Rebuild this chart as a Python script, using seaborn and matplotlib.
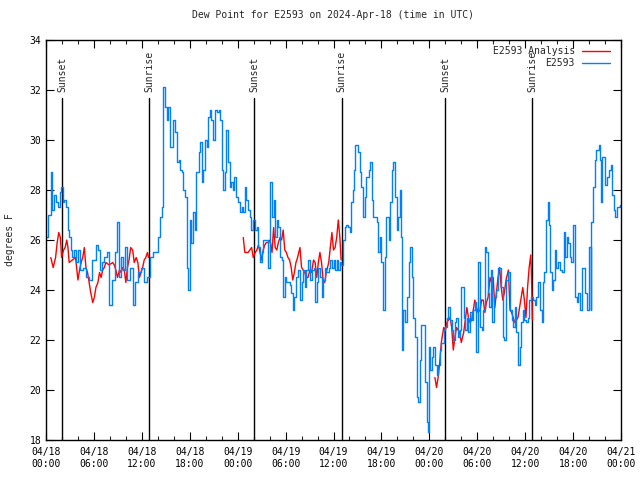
import matplotlib
matplotlib.use("Agg")
import matplotlib.pyplot as plt
import matplotlib.dates as mdates
from matplotlib.ticker import MultipleLocator
from matplotlib.lines import Line2D
import numpy as np
import pandas as pd
import seaborn as sns

# ---------------- data (hours after 2024-04-18 00:00 UTC, dew point degF) -------------
station_obs = [
    (0.0, 26.1), (0.3, 27.0), (0.6, 28.7), (0.8, 27.2), (1.0, 27.8), (1.25, 27.5), (1.5, 27.3),
    (1.7, 27.9), (1.9, 28.1), (2.1, 27.5), (2.3, 27.6), (2.5, 27.3), (2.7, 26.4), (2.9, 26.1),
    (3.1, 25.6), (3.3, 25.3), (3.5, 25.6), (3.75, 25.1), (4.0, 25.6), (4.2, 24.8), (4.6, 24.9),
    (5.0, 24.5), (5.4, 24.4), (5.8, 25.2), (6.2, 25.8), (6.5, 25.6), (6.7, 24.8), (7.0, 25.1),
    (7.3, 25.3), (7.6, 25.5), (7.9, 23.4), (8.3, 24.4), (8.6, 25.5), (8.85, 26.7), (9.1, 24.5),
    (9.4, 25.3), (9.7, 24.8), (9.9, 25.7), (10.2, 24.4), (10.5, 24.9), (10.9, 23.4), (11.2, 24.3),
    (11.5, 24.7), (11.9, 24.9), (12.3, 24.3), (12.7, 24.5), (13.0, 25.3), (13.35, 25.5),
    (13.8, 25.5), (14.07, 26.1), (14.3, 26.9), (14.5, 27.3), (14.65, 32.1), (14.9, 31.3),
    (15.1, 30.8), (15.3, 31.3), (15.5, 29.7), (15.7, 29.7), (15.9, 30.8), (16.1, 30.3),
    (16.4, 29.1), (16.6, 29.2), (16.8, 28.8), (17.0, 28.7), (17.2, 28.0), (17.4, 27.7),
    (17.6, 24.9), (17.8, 24.0), (18.0, 26.8), (18.2, 25.9), (18.4, 27.1), (18.6, 26.4),
    (18.8, 28.7), (19.1, 29.5), (19.3, 29.9), (19.5, 28.3), (19.7, 28.8), (19.9, 30.0),
    (20.1, 29.7), (20.3, 30.9), (20.5, 31.2), (20.7, 30.8), (20.9, 30.0), (21.1, 31.2),
    (21.4, 31.1), (21.6, 31.2), (21.8, 30.8), (22.0, 28.8), (22.2, 28.0), (22.4, 28.7),
    (22.6, 30.4), (22.8, 29.1), (23.0, 28.1), (23.2, 28.3), (23.4, 28.0), (23.6, 28.5),
    (23.85, 27.7), (24.0, 27.5), (24.3, 27.1), (24.5, 27.3), (24.7, 27.1), (24.9, 28.1),
    (25.1, 27.6), (25.3, 27.2), (25.5, 26.9), (25.7, 26.4), (25.9, 26.8), (26.2, 26.4),
    (26.4, 26.5), (26.6, 25.7), (26.8, 25.1), (27.0, 25.5), (27.2, 26.0), (27.6, 26.0),
    (27.8, 24.9), (28.1, 28.3), (28.3, 26.9), (28.5, 27.6), (28.7, 26.1), (28.9, 26.8),
    (29.1, 26.5), (29.3, 25.3), (29.5, 25.2), (29.7, 23.7), (29.9, 24.5), (30.1, 24.3),
    (30.5, 24.2), (30.7, 23.9), (30.9, 23.2), (31.1, 23.7), (31.3, 24.5), (31.5, 24.8),
    (31.8, 23.6), (32.0, 24.3), (32.2, 24.8), (32.4, 24.1), (32.6, 24.8), (32.8, 25.2),
    (33.05, 24.4), (33.25, 24.8), (33.5, 24.9), (33.7, 23.5), (33.9, 24.3), (34.1, 24.9),
    (34.3, 24.5), (34.5, 23.7), (34.7, 24.4), (34.9, 24.9), (35.1, 24.7), (35.4, 24.9),
    (35.6, 25.2), (35.8, 24.9), (36.0, 25.2), (36.2, 24.8), (36.4, 25.2), (36.6, 24.8),
    (36.8, 25.1), (37.0, 25.0), (37.2, 26.0), (37.4, 26.5), (37.6, 26.6), (37.8, 26.5),
    (38.1, 26.3), (38.2, 27.5), (38.4, 28.0), (38.6, 28.8), (38.7, 29.8), (38.9, 29.8),
    (39.1, 29.5), (39.3, 28.7), (39.5, 28.1), (39.7, 26.9), (39.9, 27.7), (40.1, 28.5),
    (40.4, 28.8), (40.6, 29.1), (40.8, 27.6), (41.0, 26.9), (41.2, 26.9), (41.4, 26.7),
    (41.6, 25.5), (41.8, 26.1), (42.0, 25.1), (42.2, 23.2), (42.4, 25.3), (42.6, 26.9),
    (42.9, 26.0), (43.1, 27.5), (43.3, 28.8), (43.5, 29.1), (43.7, 27.7), (43.9, 26.4),
    (44.1, 26.9), (44.3, 28.0), (44.45, 26.1), (44.6, 21.6), (44.7, 23.2), (44.9, 22.7),
    (45.2, 23.7), (45.4, 25.1), (45.6, 25.7), (45.8, 24.5), (46.0, 22.9), (46.2, 22.1),
    (46.4, 19.7), (46.6, 19.5), (46.8, 21.2), (47.0, 22.6), (47.3, 22.6), (47.5, 20.3),
    (47.7, 18.7), (47.8, 18.3), (48.0, 21.7), (48.1, 20.8), (48.3, 21.3), (48.5, 21.7),
    (48.7, 21.0), (48.9, 20.6), (49.1, 21.0), (49.3, 21.6), (49.5, 21.9), (49.8, 22.4),
    (50.0, 22.5), (50.2, 22.9), (50.4, 23.3), (50.6, 22.8), (50.8, 22.4), (51.0, 22.0),
    (51.2, 22.7), (51.4, 22.9), (51.6, 22.1), (51.8, 22.4), (52.0, 24.1), (52.3, 22.9),
    (52.5, 22.4), (52.7, 22.9), (52.9, 22.3), (53.1, 23.1), (53.3, 22.8), (53.5, 23.2),
    (53.7, 23.5), (53.9, 21.5), (54.05, 25.1), (54.3, 22.5), (54.55, 22.4), (54.75, 23.2),
    (54.95, 25.7), (55.1, 25.5), (55.3, 23.9), (55.5, 23.3), (55.7, 24.8), (55.9, 22.7),
    (56.1, 23.7), (56.3, 24.0), (56.6, 24.9), (56.8, 24.9), (57.0, 24.1), (57.2, 22.1),
    (57.4, 22.0), (57.6, 24.4), (57.9, 24.7), (58.1, 23.2), (58.3, 22.8), (58.5, 22.5),
    (58.7, 23.3), (58.9, 22.3), (59.05, 21.0), (59.3, 21.7), (59.45, 22.7), (59.7, 23.2),
    (59.9, 22.8), (60.1, 22.7), (60.3, 22.9), (60.5, 23.6), (60.7, 23.7), (61.0, 23.6),
    (61.2, 23.4), (61.4, 23.7), (61.65, 24.3), (61.85, 23.2), (62.1, 22.7), (62.2, 24.3),
    (62.4, 24.7), (62.6, 26.8), (62.8, 27.5), (63.0, 26.6), (63.1, 24.7), (63.3, 24.0),
    (63.5, 24.4), (63.7, 25.6), (63.9, 24.9), (64.1, 25.1), (64.3, 24.8), (64.6, 24.7),
    (64.8, 26.3), (65.0, 25.3), (65.2, 26.1), (65.4, 25.9), (65.6, 25.3), (65.8, 25.1),
    (66.0, 26.6), (66.25, 23.7), (66.45, 23.5), (66.65, 23.9), (66.85, 23.2), (67.1, 24.9),
    (67.3, 24.9), (67.5, 23.9), (67.7, 23.2), (67.9, 23.2), (68.0, 25.7), (68.2, 23.2),
    (68.3, 26.7), (68.5, 28.1), (68.7, 29.2), (68.9, 29.6), (69.2, 29.8), (69.4, 29.2),
    (69.5, 27.5), (69.65, 29.3), (69.85, 29.3), (70.05, 28.2), (70.3, 28.5), (70.5, 28.8),
    (70.7, 29.0), (70.9, 27.8), (71.1, 27.2), (71.3, 26.9), (71.5, 27.3), (71.9, 27.4),
    (72.0, 27.4),
]

analysis_day1 = [
    (0.6, 25.3), (0.9, 24.9), (1.2, 25.3), (1.4, 25.9), (1.6, 26.3), (1.8, 26.1), (1.95, 25.3),
    (2.2, 25.6), (2.4, 25.7), (2.6, 26.0), (2.75, 25.7), (2.9, 25.1), (3.3, 25.2), (3.7, 25.3),
    (4.0, 24.4), (4.2, 24.8), (4.4, 25.1), (4.6, 25.3), (4.8, 25.7), (5.0, 24.9), (5.2, 24.7),
    (5.4, 24.3), (5.6, 23.9), (5.85, 23.5), (6.05, 23.7), (6.25, 24.1), (6.5, 24.3), (6.7, 24.7),
    (6.9, 24.5), (7.1, 24.8), (7.3, 24.9), (7.5, 25.1), (7.9, 25.0), (8.35, 25.1), (8.55, 25.0),
    (8.75, 24.8), (8.95, 24.5), (9.2, 24.8), (9.4, 24.7), (9.6, 24.9), (9.8, 24.8), (10.0, 24.3),
    (10.2, 24.9), (10.4, 25.2), (10.6, 25.7), (10.85, 25.6), (11.05, 25.1), (11.3, 25.3),
    (11.5, 25.1), (11.7, 24.5), (11.9, 24.7), (12.1, 24.9), (12.3, 25.2), (12.5, 25.3),
    (12.7, 25.5), (12.85, 25.3),
]
analysis_day2 = [
    (24.7, 26.1), (24.9, 25.5), (25.3, 25.5), (25.75, 25.7), (25.95, 25.3), (26.2, 25.5),
    (26.4, 25.6), (26.6, 25.8), (26.8, 25.5), (27.0, 25.2), (27.2, 25.6), (27.4, 25.8),
    (27.6, 25.9), (27.85, 25.9), (28.05, 26.0), (28.3, 25.5), (28.5, 26.5), (28.7, 25.7),
    (28.9, 25.6), (29.1, 25.9), (29.3, 26.1), (29.5, 26.0), (29.7, 26.4), (29.9, 25.6),
    (30.1, 25.5), (30.3, 25.3), (30.5, 25.2), (30.7, 24.9), (30.9, 24.4), (31.1, 24.7),
    (31.3, 25.1), (31.5, 25.3), (31.8, 25.7), (32.0, 24.9), (32.2, 24.8), (32.4, 24.7),
    (32.6, 24.5), (32.8, 24.5), (33.05, 24.8), (33.25, 24.7), (33.5, 25.2), (33.7, 25.1),
    (33.9, 24.5), (34.1, 25.1), (34.3, 25.5), (34.5, 25.1), (34.7, 24.4), (34.9, 24.3),
    (35.1, 24.7), (35.4, 25.1), (35.6, 25.7), (35.8, 26.3), (36.0, 25.6), (36.2, 25.7),
    (36.4, 26.1), (36.6, 26.8), (36.8, 26.1), (36.95, 25.2),
]
analysis_day3 = [
    (48.7, 20.5), (48.9, 20.1), (49.1, 20.5), (49.3, 21.1), (49.5, 21.9), (49.8, 22.5),
    (50.0, 22.4), (50.2, 22.7), (50.4, 22.8), (50.6, 22.9), (50.8, 22.5), (51.0, 21.6),
    (51.2, 22.1), (51.4, 22.5), (51.6, 22.4), (51.8, 22.3), (52.0, 21.9), (52.3, 22.3),
    (52.5, 22.8), (52.7, 23.3), (52.9, 22.9), (53.1, 22.7), (53.3, 22.8), (53.5, 23.2),
    (53.7, 23.6), (53.9, 23.3), (54.1, 23.1), (54.35, 23.2), (54.55, 23.6), (54.75, 23.6),
    (54.95, 23.1), (55.15, 23.5), (55.35, 23.7), (55.6, 24.5), (55.8, 24.3), (56.0, 24.5),
    (56.2, 23.3), (56.4, 23.9), (56.6, 24.5), (56.8, 24.9), (57.0, 24.1), (57.2, 23.6),
    (57.4, 23.9), (57.6, 24.4), (57.9, 24.8), (58.1, 23.2), (58.3, 23.1), (58.5, 22.9),
    (58.7, 22.7), (58.9, 22.8), (59.1, 22.9), (59.3, 23.3), (59.5, 23.7), (59.7, 24.1),
    (59.9, 23.6), (60.1, 22.9), (60.3, 24.1), (60.5, 24.9), (60.7, 25.4), (60.8, 24.5),
    (60.9, 22.8),
]

sunset_hours = [2.04, 26.08, 50.0]
sunrise_hours = [12.93, 37.03, 60.9]

start = pd.Timestamp("2024-04-18 00:00")
title = "Dew Point for E2593 on 2024-Apr-18 (time in UTC)"
label_analysis = "E2593 Analysis"
label_obs = "E2593"

RED = "#ff0000"
BLUE = "#0080ff"

# ---------------- build frames ----------------
obs_df = pd.DataFrame(station_obs, columns=["hour", "dewpt"])
obs_df["time"] = start + pd.to_timedelta(obs_df["hour"], unit="h")

frames = []
for i, seg in enumerate([analysis_day1, analysis_day2, analysis_day3]):
    d = pd.DataFrame(seg, columns=["hour", "dewpt"])
    d["seg"] = i
    frames.append(d)
ana_df = pd.concat(frames, ignore_index=True)
ana_df["time"] = start + pd.to_timedelta(ana_df["hour"], unit="h")

# ---------------- plot ----------------
sns.set_style("ticks")
plt.rcParams["font.family"] = ["DejaVu Sans Mono", "DejaVu Sans"]
plt.rcParams["font.size"] = 7

fig = plt.figure(figsize=(6.4, 4.8), dpi=100)
ax = fig.add_axes([46 / 640, 40 / 480, 575 / 640, 400 / 480])

sns.lineplot(data=ana_df, x="time", y="dewpt", units="seg", estimator=None,
             color=RED, lw=1.0, ax=ax, sort=False, legend=False)
sns.lineplot(data=obs_df, x="time", y="dewpt", color=BLUE, lw=1.0, ax=ax,
             drawstyle="steps-post", estimator=None, legend=False)

for h in sunset_hours + sunrise_hours:
    t = start + pd.Timedelta(hours=h)
    ax.plot([t, t], [18, 31.68], color="black", lw=1.0, zorder=1)
for h, lab in [(x, "Sunset") for x in sunset_hours] + [(x, "Sunrise") for x in sunrise_hours]:
    t = start + pd.Timedelta(hours=h)
    ax.text(t, 31.92, lab, rotation=90, ha="center", va="bottom", fontsize=7)

ax.set_xlim(start, start + pd.Timedelta(hours=72))
ax.set_ylim(18, 34)
ax.yaxis.set_major_locator(MultipleLocator(2))
ax.xaxis.set_major_locator(mdates.HourLocator(byhour=[0, 6, 12, 18]))
ax.xaxis.set_minor_locator(mdates.HourLocator(byhour=range(0, 24, 2)))
ax.xaxis.set_major_formatter(mdates.DateFormatter("%m/%d\n%H:%M"))
ax.tick_params(which="major", direction="in", length=6, width=0.8, top=True, right=True,
               labelsize=7, colors="black")
ax.tick_params(which="minor", direction="in", length=3, width=0.8, top=True, right=True)
ax.tick_params(axis="x", pad=5)
for s in ax.spines.values():
    s.set_linewidth(1.0)
    s.set_color("black")

ax.set_xlabel("")
ax.set_ylabel("degrees F", fontsize=7, labelpad=10)
ax.set_title(title, fontsize=7, pad=16)

handles = [Line2D([], [], color=RED, lw=1.0), Line2D([], [], color=BLUE, lw=1.0)]
ax.legend(handles, [label_analysis, label_obs], loc="upper right",
          bbox_to_anchor=((610 - 46) / 575, (440 - 46) / 400),
          frameon=False, markerfirst=False, fontsize=7,
          handlelength=2.9, handletextpad=0.7, labelspacing=0.25,
          borderaxespad=0.0, borderpad=0.0)

fig.savefig("out.png", dpi=100)
